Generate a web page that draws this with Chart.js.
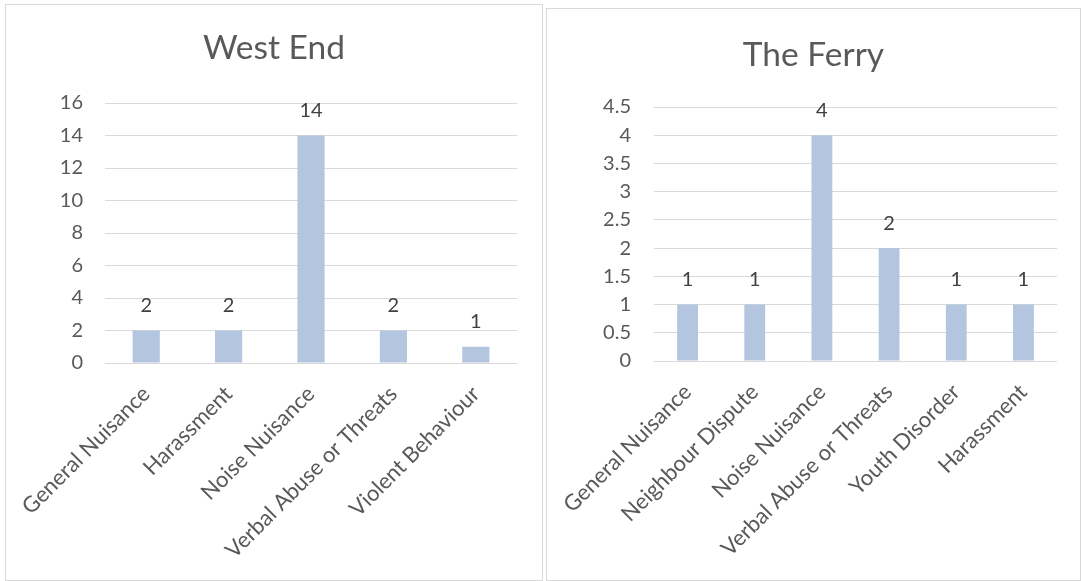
<!DOCTYPE html>
<html>
<head>
<meta charset="utf-8">
<script src="https://cdn.jsdelivr.net/npm/chart.js@4.4.1/dist/chart.umd.min.js"></script>
<style>
  body { margin: 0; background: #fff; width: 1082px; height: 581px; overflow: hidden; }
  .panel { position: absolute; border: 1px solid #d9d9d9; box-sizing: border-box; background: #fff; }
  #westPanel { left: 5px; top: 4px; width: 538px; height: 577px; }
  #ferryPanel { left: 546px; top: 8px; width: 535px; height: 573px; }
</style>
</head>
<body>
<div class="panel" id="westPanel"><canvas id="westChart"></canvas></div>
<div class="panel" id="ferryPanel"><canvas id="ferryChart"></canvas></div>
<script>
// West End
const westCategories = ['General Nuisance', 'Harassment', 'Noise Nuisance', 'Verbal Abuse or Threats', 'Violent Behaviour'];
const westValues = [2, 2, 14, 2, 1];
const westTicks = [0, 2, 4, 6, 8, 10, 12, 14, 16];

// The Ferry
const ferryCategories = ['General Nuisance', 'Neighbour Dispute', 'Noise Nuisance', 'Verbal Abuse or Threats', 'Youth Disorder', 'Harassment'];
const ferryValues = [1, 1, 4, 2, 1, 1];
const ferryTicks = [0, 0.5, 1, 1.5, 2, 2.5, 3, 3.5, 4, 4.5];

const barColor = '#b4c5e0';
const gridColor = '#d9d9d9';
const textColor = '#595959';
const fontFamily = 'Lato, "Open Sans", sans-serif';

// labels above the bars
const valueLabels = {
    id: 'valueLabels',
    afterDatasetsDraw(chart) {
        const ctx = chart.ctx;
        ctx.save();
        ctx.fillStyle = '#404040';
        ctx.font = '20px ' + fontFamily;
        ctx.textAlign = 'center';
        ctx.textBaseline = 'middle';
        const meta = chart.getDatasetMeta(0);
        meta.data.forEach(function(bar, i){
            ctx.fillText(chart.data.datasets[0].data[i], bar.x, bar.y - 25);
        });
        ctx.restore();
    }
};

// title centred over the whole panel (not just the plot)
const panelTitle = {
    id: 'panelTitle',
    afterDraw(chart, args, opts) {
        const ctx = chart.ctx;
        ctx.save();
        ctx.fillStyle = textColor;
        ctx.font = '33.5px ' + fontFamily;
        ctx.textAlign = 'center';
        ctx.textBaseline = 'alphabetic';
        ctx.fillText(opts.text, chart.width / 2, opts.baseline);
        ctx.restore();
    }
};

function makeChart(canvasId, title, categories, values, ticks, opts){
    return new Chart(document.getElementById(canvasId), {
        type: 'bar',
        data: {
            labels: categories,
            datasets: [{
                data: values,
                backgroundColor: barColor,
                barPercentage: opts.barPct,
                categoryPercentage: 1
            }]
        },
        options: {
            responsive: true,
            maintainAspectRatio: false,
            animation: false,
            layout: { padding: { left: 0, right: opts.padRight, top: opts.padTop, bottom: 0 } },
            plugins: {
                legend: { display: false },
                tooltip: { enabled: false },
                title: { display: false },
                panelTitle: { text: title, baseline: opts.titleBaseline }
            },
            scales: {
                x: {
                    grid: { display: false },
                    border: { display: false },
                    ticks: {
                        color: textColor,
                        font: { family: fontFamily, size: 22 },
                        autoSkip: false,
                        minRotation: 45,
                        maxRotation: 45,
                        padding: 10
                    },
                    afterFit: function(scale){ scale.height = opts.xHeight; }
                },
                y: {
                    min: 0,
                    max: ticks[ticks.length - 1],
                    afterBuildTicks: function(scale){ scale.ticks = ticks.map(function(v){ return {value: v}; }); },
                    grid: { color: gridColor, lineWidth: 1, drawTicks: false },
                    border: { display: false },
                    ticks: {
                        color: textColor,
                        font: { family: fontFamily, size: 20 },
                        padding: opts.yPad,
                        callback: function(v){ return String(v); }
                    },
                    afterFit: function(scale){ scale.width = opts.yWidth; }
                }
            }
        },
        plugins: [valueLabels, panelTitle]
    });
}

makeChart('westChart', 'West End', westCategories, westValues, westTicks,
    {barPct: 0.33, padRight: 25, padTop: 98, titleBaseline: 54, xHeight: 217, yWidth: 99, yPad: 22});
makeChart('ferryChart', 'The Ferry', ferryCategories, ferryValues, ferryTicks,
    {barPct: 0.31, padRight: 23, padTop: 98, titleBaseline: 57, xHeight: 219, yWidth: 107, yPad: 23});
</script>
</body>
</html>
